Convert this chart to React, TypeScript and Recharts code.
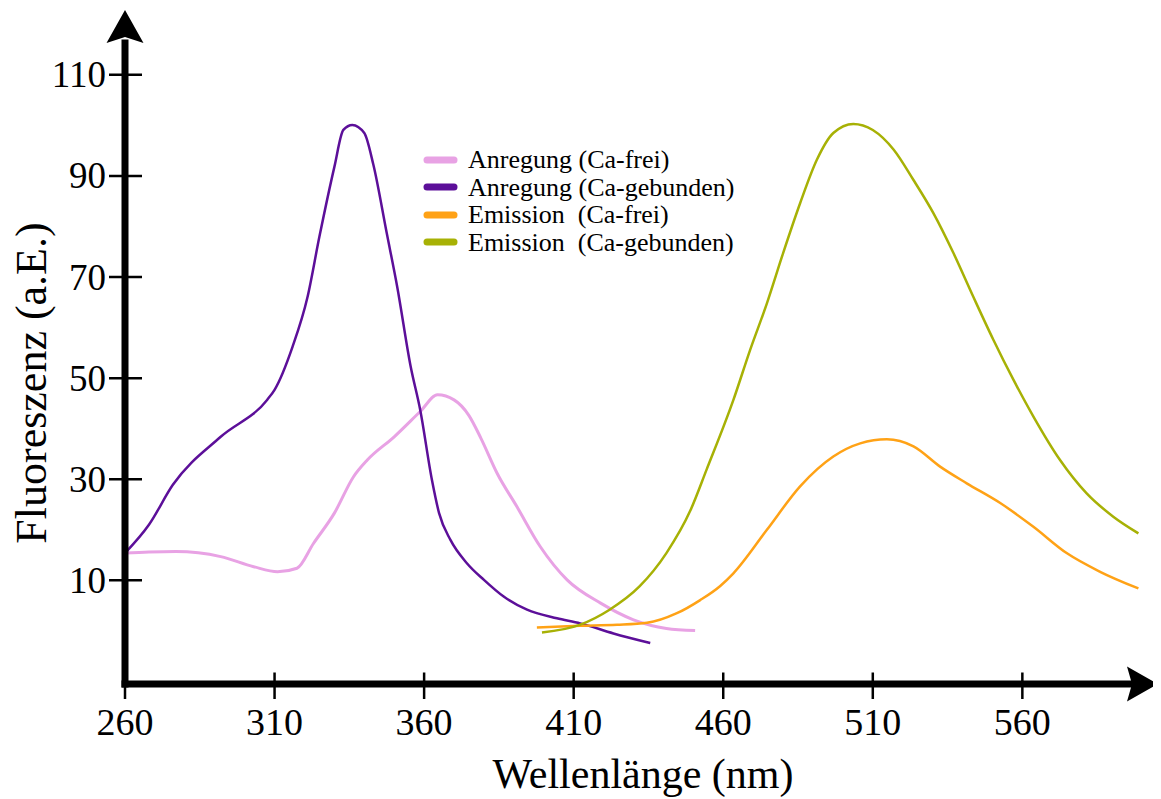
import React from 'react'
import { LineChart, Line, XAxis, YAxis, Legend, ReferenceDot } from 'recharts'

// Wellenlänge (nm) / Fluoreszenz (a.E.) pairs
const ANREGUNG_FREI: [number, number][] = [
  [260, 15.4], [268, 15.6], [277, 15.7], [292, 14.7], [303, 12.7], [311, 11.7],
  [317.5, 12.4], [323, 17.3], [330, 23.3], [336.4, 30.5], [341, 33.8], [350, 38.4],
  [358.7, 43.4], [364.5, 46.7], [370, 45.7], [375, 42.6], [379, 38.1], [384.4, 31.2],
  [391, 24.6], [398.8, 16.7], [407.8, 10.1], [419, 5.5], [430, 2.2], [441, 0.5], [450.6, 0.1],
]

const ANREGUNG_GEBUNDEN: [number, number][] = [
  [260, 15.4], [268, 21.0], [276, 28.9], [292, 38.4], [307.5, 45.7], [310, 47.7],
  [316, 56.2], [321, 66.0], [325, 78.0], [330, 91.8], [333, 99.1], [336, 100.1],
  [340, 98.5], [343, 92.3], [347.5, 78.7], [351, 68.1], [355.5, 52.3], [358.7, 43.7],
  [362.6, 29.9], [365, 23.3], [368.8, 18.0], [374.3, 13.4], [380, 10.1], [386.6, 6.8],
  [394.4, 4.2], [404.4, 2.5], [412.2, 1.5], [423.3, -0.5], [435.6, -2.4],
]

const EMISSION_FREI: [number, number][] = [
  [397.7, 0.7], [412, 1.0], [424.5, 1.2], [434.5, 1.6], [444.5, 3.5], [452.3, 6.1],
  [459, 8.9], [463.4, 11.4], [474.6, 20.0], [485.7, 28.6], [496.8, 34.5], [505.8, 37.1],
  [514.7, 37.9], [523.6, 36.5], [532.5, 32.5], [541.4, 29.2], [552.6, 25.3], [563.7, 20.6],
  [574.8, 15.4], [586, 11.7], [598.8, 8.4],
]

const EMISSION_GEBUNDEN: [number, number][] = [
  [399.4, -0.3], [412, 1.2], [422, 4.2], [432, 8.8], [441, 15.4], [449, 23.8],
  [454.5, 32.0], [463.4, 45.7], [469, 55.6], [474.6, 64.8], [480, 74.7], [485.7, 84.6],
  [491.3, 93.2], [496.8, 98.5], [503.5, 100.3], [510, 99.1], [517, 95.2], [523.6, 89.2],
  [530.3, 82.6], [537, 74.7], [543.6, 66.1], [550.3, 57.6], [557, 49.7], [563.7, 42.4],
  [572.6, 33.8], [581.5, 27.2], [590.4, 22.6], [598.8, 19.3],
]

const X_TICKS = [260, 310, 360, 410, 460, 510, 560]
const Y_TICKS = [10, 30, 50, 70, 90, 110]
const X_DOMAIN: [number, number] = [260, 600]
const Y_DOMAIN: [number, number] = [-10.5, 116.3]

const SERIES = [
  { key: 'af', name: 'Anregung (Ca-frei)', color: '#E8A2E4', width: 3, data: ANREGUNG_FREI },
  { key: 'ag', name: 'Anregung (Ca-gebunden)', color: '#5C0F99', width: 2.5, data: ANREGUNG_GEBUNDEN },
  { key: 'ef', name: 'Emission\u00a0 (Ca-frei)', color: '#FFA216', width: 2.5, data: EMISSION_FREI },
  { key: 'eg', name: 'Emission\u00a0 (Ca-gebunden)', color: '#A7B105', width: 2.5, data: EMISSION_GEBUNDEN },
]

const FONT = '"Liberation Serif", "Times New Roman", serif'

const toRows = (pairs: [number, number][]) => pairs.map(([nm, v]) => ({ nm, v }))

const XTick = (props: any) => {
  const { x, y, payload } = props
  return (
    <g>
      <line x1={x} x2={x} y1={y - 11.5} y2={y + 15} stroke="#000" strokeWidth={2.5} />
      <text x={x} y={y + 51} textAnchor="middle" fontSize={38} fontFamily={FONT} fill="#000">
        {payload.value}
      </text>
    </g>
  )
}

const YTick = (props: any) => {
  const { x, y, payload } = props
  return (
    <g>
      <line x1={x - 16} x2={x + 17} y1={y} y2={y} stroke="#000" strokeWidth={2.5} />
      <text x={x - 19} y={y + 12.5} textAnchor="end" fontSize={37} fontFamily={FONT} fill="#000">
        {payload.value}
      </text>
    </g>
  )
}

const ArrowUp = (props: any) => {
  const { cx, cy } = props
  return <path d={`M${cx},${cy - 33} L${cx + 18.5},${cy} L${cx},${cy - 6} L${cx - 18.5},${cy} Z`} fill="#000" />
}

const ArrowRight = (props: any) => {
  const { cx, cy } = props
  return <path d={`M${cx + 16},${cy} L${cx - 15},${cy - 17.5} L${cx - 10},${cy} L${cx - 15},${cy + 17.5} Z`} fill="#000" />
}

const LegendBox = () => (
  <div style={{ fontFamily: FONT, fontSize: 26, color: '#000' }}>
    {SERIES.map(s => (
      <div key={s.key} style={{ display: 'flex', alignItems: 'center', height: 27.5 }}>
        <svg width={36} height={10} style={{ marginRight: 9 }}>
          <line x1={4} x2={31} y1={5} y2={5} stroke={s.color} strokeWidth={7} strokeLinecap="round" />
        </svg>
        <span style={{ whiteSpace: 'pre', lineHeight: '27.5px' }}>{s.name}</span>
      </div>
    ))}
  </div>
)

export default function App() {
  return (
    <LineChart width={1153} height={791} margin={{ top: 35, right: 19, left: 0, bottom: 0 }}>
      <XAxis
        dataKey="nm"
        type="number"
        domain={X_DOMAIN}
        ticks={X_TICKS}
        height={115}
        tickSize={0}
        tickMargin={0}
        tickLine={false}
        tick={<XTick />}
        axisLine={{ stroke: '#000', strokeWidth: 7, strokeLinecap: 'square' }}
        allowDataOverflow
        label={{
          content: () => (
            <text x={635} y={780} textAnchor="middle" fontSize={42} fontFamily={FONT} fill="#000">
              Wellenlänge (nm)
            </text>
          ),
        }}
      />
      <YAxis
        type="number"
        domain={Y_DOMAIN}
        ticks={Y_TICKS}
        width={117}
        tickSize={0}
        tickMargin={0}
        tickLine={false}
        tick={<YTick />}
        axisLine={{ stroke: '#000', strokeWidth: 7, strokeLinecap: 'square' }}
        allowDataOverflow
        label={{
          content: () => (
            <text x={38} y={375} transform="rotate(-90 38 375)" textAnchor="middle" fontSize={44} fontFamily={FONT} fill="#000">
              Fluoreszenz (a.E.)
            </text>
          ),
        }}
      />
      {SERIES.map(s => (
        <Line
          key={s.key}
          data={toRows(s.data)}
          dataKey="v"
          name={s.name}
          type="monotone"
          stroke={s.color}
          strokeWidth={s.width}
          dot={false}
          activeDot={false}
          isAnimationActive={false}
        />
      ))}
      <ReferenceDot x={X_DOMAIN[0]} y={Y_DOMAIN[1]} shape={<ArrowUp />} ifOverflow="visible" />
      <ReferenceDot x={X_DOMAIN[1]} y={Y_DOMAIN[0]} shape={<ArrowRight />} ifOverflow="visible" />
      <Legend
        layout="vertical"
        align="center"
        verticalAlign="middle"
        content={<LegendBox />}
        wrapperStyle={{ position: 'absolute', left: 415, top: 138, width: 'auto', height: 'auto' }}
      />
    </LineChart>
  )
}
